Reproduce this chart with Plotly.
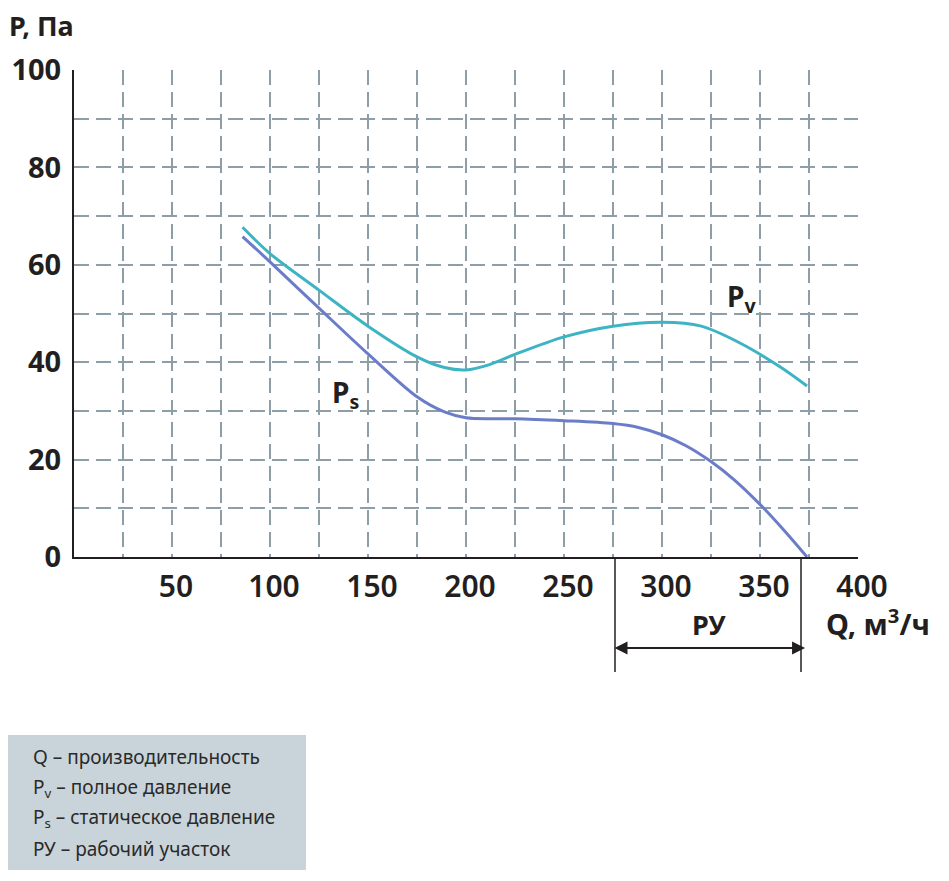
import plotly.graph_objects as go

# flow Q, m3/h and pressures P, Pa
q_pv = [86, 100, 125, 150, 175, 189, 200, 212, 225, 250, 275, 300, 320, 340, 360, 374]
p_pv = [67.7, 62.3, 54.8, 47.4, 41.1, 38.9, 38.4, 39.5, 41.6, 45.2, 47.4, 48.2, 47.4, 43.9, 39.1, 35.1]

q_ps = [86, 100, 125, 150, 175, 189, 200, 213, 225, 250, 275, 288, 300, 312, 325, 337, 350, 362, 374]
p_ps = [65.8, 60.6, 51.1, 41.7, 32.9, 29.8, 28.6, 28.4, 28.4, 28.0, 27.4, 26.6, 25.1, 22.9, 19.6, 15.8, 10.8,
        5.6, 0.0]

x_ticks = [50, 100, 150, 200, 250, 300, 350, 400]
y_ticks = [0, 20, 40, 60, 80, 100]

ru_start, ru_end = 275, 373  # working range

legend_lines = [
    "Q – производительность",
    "P<sub>v</sub> – полное давление",
    "P<sub>s</sub> – статическое давление",
    "РУ – рабочий участок",
]

FONT = "Noto Sans"
INK = "#231f20"
GRID = "#8d9ea8"

# plot area in screen pixels; the page body adds an 8px offset
OFF = 8
L, R, T, B = 74, 858, 70, 557


def px_x(p):
    return (p - L) / (R - L)


def px_y(p):
    return (B - p) / (B - T)


fig = go.Figure()
fig.add_trace(go.Scatter(x=q_pv, y=p_pv, mode="lines",
                         line=dict(color="#3db4c3", width=3, shape="spline", smoothing=0.9),
                         name="Pv", cliponaxis=False))
fig.add_trace(go.Scatter(x=q_ps, y=p_ps, mode="lines",
                         line=dict(color="#6b7dc8", width=3, shape="spline", smoothing=0.9),
                         name="Ps", cliponaxis=False))

grid = dict(showgrid=True, gridcolor=GRID, gridwidth=1.6, griddash="15px,7px")

fig.update_xaxes(range=[0, 400], tickvals=x_ticks, ticks="", showline=True, linecolor=INK, linewidth=2,
                 zeroline=False, automargin=False,
                 tickfont=dict(family=FONT, size=30, color=INK, weight=600),
                 minor=dict(dtick=25, tick0=0, **grid), ticklabelstandoff=2, ticklabelshift=4, **grid)
fig.update_yaxes(range=[0, 100], tickvals=y_ticks, ticks="", showline=True, linecolor=INK, linewidth=2,
                 zeroline=False, automargin=False,
                 tickfont=dict(family=FONT, size=29, color=INK, weight="bold"),
                 minor=dict(dtick=10, tick0=0, **grid), ticklabelstandoff=5, **grid)

annotations = [
    dict(x=px_x(OFF), y=px_y(25), text="P, Па", xanchor="left", yanchor="middle", borderpad=0,
         font=dict(size=27, weight="bold")),
    dict(x=px_x(824), y=px_y(622), text="Q, м<sup>3</sup>/ч", xanchor="left", yanchor="middle",
         font=dict(size=29, weight="bold")),
    dict(x=(ru_start + ru_end) / 2, xref="x", y=px_y(624), text="РУ", xanchor="center", yanchor="middle",
         font=dict(size=27, weight="bold")),
    dict(x=px_x(741), y=px_y(298), text="P<sub>v</sub>", xanchor="center", yanchor="middle",
         font=dict(size=28, weight="bold")),
    dict(x=px_x(345), y=px_y(394), text="P<sub>s</sub>", xanchor="center", yanchor="middle",
         font=dict(size=28, weight="bold")),
    dict(x=ru_end, xref="x", y=px_y(648), ax=ru_start, axref="x", ay=0, ayref="pixel", text="",
         showarrow=True, arrowside="end+start", arrowhead=2, arrowsize=1.3, arrowwidth=2, arrowcolor=INK),
]
for i, line in enumerate(legend_lines):
    annotations.append(dict(x=px_x(31), y=px_y(757 + i * 30.5), text=line, xanchor="left", yanchor="middle",
                            font=dict(size=19, weight="normal", color="#2a2a2a")))
for a in annotations:
    a.setdefault("xref", "paper")
    a.setdefault("yref", "paper")
    a.setdefault("showarrow", False)
    f = a.get("font", {})
    f.setdefault("color", INK)
    a["font"] = dict(family=FONT, **f)

shapes = [
    dict(type="rect", xref="paper", yref="paper", x0=px_x(OFF), x1=px_x(306), y0=px_y(735), y1=px_y(870),
         fillcolor="#c9d4da", line=dict(width=0), layer="below"),
    dict(type="line", xref="paper", yref="paper", x0=px_x(615), x1=px_x(615), y0=0, y1=px_y(672),
         line=dict(color=INK, width=1.5)),
    dict(type="line", xref="paper", yref="paper", x0=px_x(801), x1=px_x(801), y0=0, y1=px_y(672),
         line=dict(color=INK, width=1.5)),
]

fig.update_layout(
    width=949 - OFF, height=881 - OFF,
    margin=dict(l=L - OFF, r=949 - R, t=T - OFF, b=881 - B),
    paper_bgcolor="white", plot_bgcolor="white",
    showlegend=False,
    annotations=annotations, shapes=shapes,
    font=dict(family=FONT, color=INK),
)

fig.write_html("out.html")
